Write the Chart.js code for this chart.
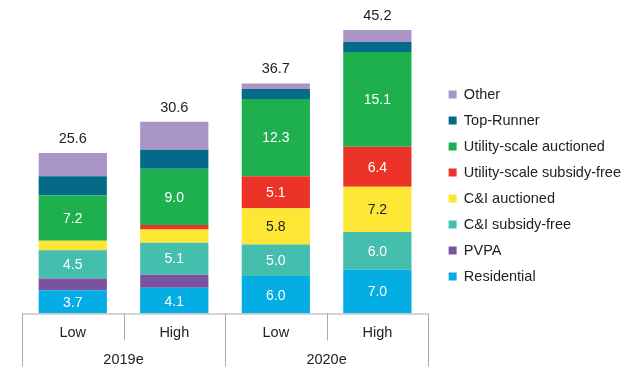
<!DOCTYPE html>
<html lang="en">
<head>
    <meta charset="UTF-8">
    <title>Solar installations 2019e / 2020e</title>
    <script src="https://cdn.jsdelivr.net/npm/chart.js"></script>
    <style>
        * { margin: 0; padding: 0; box-sizing: border-box; }
        body { background: #fff; width: 631px; height: 371px; overflow: hidden; }
        canvas { display: block; }
    </style>
</head>
<body>
    <canvas id="myChart" width="631" height="371"></canvas>
    <script>
        // data
        const scenarios = ['Low', 'High', 'Low', 'High'];
        const groups = ['2019e', '2020e'];
        const totals = [25.6, 30.6, 36.7, 45.2];

        const residential = [3.7, 4.1, 6.0, 7.0];
        const pvpa = [1.9, 2.1, 0, 0];
        const ciSubsidyFree = [4.5, 5.1, 5.0, 6.0];
        const ciAuctioned = [1.5, 2.1, 5.8, 7.2];
        const utilitySubsidyFree = [0, 0.7, 5.1, 6.4];
        const utilityAuctioned = [7.2, 9.0, 12.3, 15.1];
        const topRunner = [3.1, 3.0, 1.6, 1.6];
        const other = [3.7, 4.5, 0.9, 1.9];

        const FONT = 'Liberation Sans, Arial, sans-serif';

        const series = [
            { label: 'Residential', data: residential, color: '#04ade4', show: true },
            { label: 'PVPA', data: pvpa, color: '#7a52a2', show: false },
            { label: 'C&I subsidy-free', data: ciSubsidyFree, color: '#44bfae', show: true },
            { label: 'C&I auctioned', data: ciAuctioned, color: '#fee634', show: true, dark: true },
            { label: 'Utility-scale subsidy-free', data: utilitySubsidyFree, color: '#ec3327', show: true },
            { label: 'Utility-scale auctioned', data: utilityAuctioned, color: '#1eb04f', show: true },
            { label: 'Top-Runner', data: topRunner, color: '#036a8a', show: false },
            { label: 'Other', data: other, color: '#a994c8', show: false }
        ];

        // value labels inside the segments + totals on top
        const valueLabels = {
            id: 'valueLabels',
            afterDatasetsDraw(chart) {
                const ctx = chart.ctx;
                ctx.save();
                ctx.textAlign = 'center';
                ctx.textBaseline = 'middle';
                ctx.font = '14px ' + FONT;
                chart.data.datasets.forEach((ds, di) => {
                    const s = series[di];
                    if (!s.show) return;
                    chart.getDatasetMeta(di).data.forEach((bar, i) => {
                        const v = ds.data[i];
                        if (v < 3) return;
                        ctx.fillStyle = s.dark ? '#222' : '#fff';
                        ctx.fillText(v.toFixed(1), bar.x, (bar.y + bar.base) / 2 + 1);
                    });
                });
                const y = chart.scales.y;
                const meta = chart.getDatasetMeta(0);
                ctx.fillStyle = '#222';
                ctx.font = '14.5px ' + FONT;
                totals.forEach((t, i) => {
                    ctx.fillText(t.toFixed(1), meta.data[i].x, y.getPixelForValue(t) - 14);
                });
                ctx.restore();
            }
        };

        // two-level category axis drawn as a small table
        const groupAxis = {
            id: 'groupAxis',
            afterDraw(chart) {
                const ctx = chart.ctx;
                const x = chart.scales.x;
                const area = chart.chartArea;
                const slot = (area.right - area.left) / scenarios.length;
                const top = area.bottom;
                ctx.save();
                ctx.strokeStyle = '#aaaaaa';
                ctx.lineWidth = 1;
                ctx.beginPath();
                ctx.moveTo(area.left, top + 0.5);
                ctx.lineTo(area.right, top + 0.5);
                for (let i = 0; i <= scenarios.length; i++) {
                    const px = Math.round(area.left + i * slot) + 0.5;
                    ctx.moveTo(px, top);
                    ctx.lineTo(px, i % 2 === 0 ? top + 53 : top + 27);
                }
                ctx.stroke();
                ctx.fillStyle = '#222';
                ctx.textAlign = 'center';
                ctx.textBaseline = 'middle';
                ctx.font = '14.5px ' + FONT;
                scenarios.forEach((s, i) => ctx.fillText(s, x.getPixelForValue(i), top + 19));
                groups.forEach((g, gi) => {
                    const mid = (x.getPixelForValue(gi * 2) + x.getPixelForValue(gi * 2 + 1)) / 2;
                    ctx.fillText(g, mid, top + 46);
                });
                ctx.restore();
            }
        };

        const ctx = document.getElementById('myChart').getContext('2d');
        new Chart(ctx, {
            type: 'bar',
            data: {
                labels: scenarios,
                datasets: series.map(s => ({
                    label: s.label,
                    data: s.data,
                    backgroundColor: s.color,
                    borderWidth: 0,
                    barPercentage: 0.672,
                    categoryPercentage: 1
                }))
            },
            options: {
                responsive: false,
                animation: false,
                layout: { padding: { left: 22, top: 0, right: 0, bottom: 0 } },
                scales: {
                    x: {
                        stacked: true,
                        grid: { display: false },
                        border: { display: false },
                        ticks: { display: false },
                        afterFit(s) { s.height = 57.5; }
                    },
                    y: {
                        stacked: true,
                        position: 'right',
                        min: 0,
                        max: 50,
                        grid: { display: false },
                        border: { display: false },
                        ticks: { display: false },
                        afterFit(s) { s.width = 9; }
                    }
                },
                plugins: {
                    legend: {
                        position: 'right',
                        reverse: true,
                        maxWidth: 210,
                        labels: {
                            color: '#222',
                            boxWidth: 8,
                            boxHeight: 8,
                            padding: 11.5,
                            font: { size: 14.5, family: FONT }
                        }
                    },
                    tooltip: { enabled: false }
                }
            },
            plugins: [valueLabels, groupAxis]
        });
    </script>
</body>
</html>
